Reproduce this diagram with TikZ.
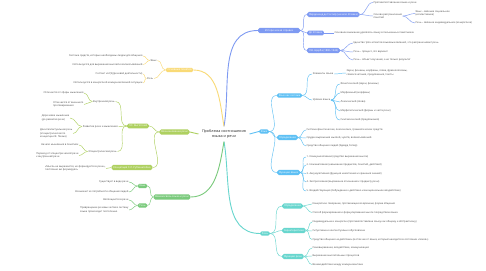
\documentclass[tikz,border=0pt]{standalone}
\usepackage{fontspec}
\setmainfont{Open Sans}
\definecolor{cBlue}{RGB}{126,154,242}
\definecolor{cLbl}{RGB}{94,192,244}
\definecolor{cTeal}{RGB}{104,214,206}
\definecolor{cYel}{RGB}{249,218,118}
\definecolor{cGrn}{RGB}{174,208,96}
\definecolor{cGrn2}{RGB}{122,202,124}
\definecolor{txt}{RGB}{70,70,70}
\newcommand\leaffont{\fontsize{2.5}{3.4}\selectfont}
\newcommand\topicfont{\fontsize{2.55}{3.1}\selectfont}
\newcommand\rootfont{\fontsize{3.7}{4.5}\selectfont}
\tikzset{
  topic/.style={fill=#1,text=white,rounded corners=1.6pt,inner xsep=1.8pt,inner ysep=1.3pt,font=\topicfont},
  leaf/.style={anchor=west,inner sep=0.4pt,text=txt,align=left},
  lleaf/.style={anchor=east,inner sep=0.4pt,text=txt,align=left},
  sub/.style={inner sep=0.6pt,text=txt,font=\topicfont},
  br/.style={draw=#1,line width=0.9pt},
  ln/.style={draw=#1,line width=0.45pt}
}
\begin{document}
\begin{tikzpicture}[x=1pt,y=-1pt,every node/.style={font=\leaffont}]
  \useasboundingbox[fill=white] (0,0) rectangle (486,270);
  % centre
  \node[font=\rootfont,align=center,text=black!85] (root) at (224,134) {Проблема соотношения\\языка и речи};

  % history
  \node[topic=cBlue,minimum width=42pt] (ist) at (279,30.5) {Историческая справка};
  \node[topic=cBlue,anchor=west] (sos) at (307,14.5) {Фердинанд де Соссюр (начало 20 века)};
  \node[topic=cBlue,anchor=west] (do20) at (307,33) {До 20 века};
  \node[topic=cBlue,anchor=west] (shch) at (307,50.5) {Л.В. Щерба (1880--1944)};
  \node[leaf] (sos1) at (373,2.5) {Противопоставление языка и речи};
  \node[leaf] (sos2) at (373,16) {Основа разграничения\\понятий};
  \node[leaf] (sos21) at (415,13.5) {Язык -- явление социальное\\(коллективное)};
  \node[leaf] (sos22) at (415,23) {Речь -- явление индивидуальное (конкретное)};
  \node[leaf] (do1) at (334,33) {Основное внимание уделялось языку в письменных памятниках};
  \foreach \n/\y/\t in {sh1/43/{Единство трёх аспектов языковых явлений, что разграничивает речь},
                        sh2/52/{Речь -- процесс, это вариант},
                        sh3/60/{Речь -- объект изучения, а не только результат}}
    \node[leaf] (\n) at (353,\y) {\t};

  % language
  \node[topic=cLbl] (yaz) at (264,131.5) {Язык};
  \node[topic=cLbl] (sys) at (289.5,95.5) {Язык как система};
  \node[sub,anchor=west] (elem) at (312,74) {Элементы языка};
  \node[sub,anchor=west] (urov) at (312,100) {Уровни языка};
  \node[leaf] (el1) at (346,73) {Звуки, фонемы, морфемы, слова, фразеологизмы,\\словосочетания, предложения, тексты};
  \foreach \n/\y/\t in {u1/84/{Фонетический (звуки, фонемы)},
                        u2/93/{Морфемный (морфемы)},
                        u3/102/{Лексический (слова)},
                        u4/111/{Морфологический (формы и части речи)},
                        u5/120/{Синтаксический (предложения)}}
    \node[leaf] (\n) at (340,\y) {\t};
  \node[topic=cLbl,anchor=west] (opr) at (277,137.5) {Определение};
  \foreach \n/\y/\t in {o1/130/{Система фонетических, лексических, грамматических средств},
                        o2/138/{Орудие выражения мыслей, чувств, волеизъявлений},
                        o3/146/{Средство общения людей (Эдвард Сепир)}}
    \node[leaf] (\n) at (306,\y) {\t};
  \node[topic=cLbl,anchor=west] (funk) at (277,172.5) {Функции языка};
  \foreach \n/\y/\t in {f1/157/{1. Коммуникативная (средство выражения мысли)},
                        f2/165/{2. Номинативная (называние предметов, понятий, действий)},
                        f3/173.5/{3. Аккумулятивная (функция накопления и хранения знаний)},
                        f4/182/{4. Экспрессивная (выражение отношения к предмету речи)},
                        f5/191/{5. Воздействующая (побуждение к действию и эмоциональное воздействие)}}
    \node[leaf] (\n) at (306,\y) {\t};

  % speech
  \node[topic=cTeal] (rech) at (265,233.5) {Речь};
  \node[topic=cTeal,anchor=west] (ropr) at (282,206) {Определение};
  \node[topic=cTeal,anchor=west] (char) at (282,230.5) {Характеристики};
  \node[topic=cTeal,anchor=west] (frech) at (282,256.5) {Функции речи};
  \node[leaf] (r1) at (312,204) {Конкретное говорение, протекающее во времени, форма общения};
  \node[leaf] (r2) at (312,212.5) {Способ формирования и формулирования мысли посредством языка};
  \foreach \n/\y/\t in {c1/222/{Индивидуальна и конкретна (противопоставлена языку как общему и абстрактному)},
                        c2/231/{Ситуативна и контекстуально обусловлена},
                        c3/239.5/{Средство общения <<в действии>> (в отличие от языка, который находится в состоянии <<покоя>>)}}
    \node[leaf] (\n) at (312,\y) {\t};
  \foreach \n/\y/\t in {g1/248/{Самовыражение, воздействие, коммуникация},
                        g2/256/{Выражение мыслительных процессов},
                        g3/264.5/{Взаимодействие между коммуникантами}}
    \node[leaf] (\n) at (312,\y) {\t};

  % notions
  \node[topic=cYel] (obs) at (179.5,70) {Основные понятия};
  \node[sub,anchor=east] (lyaz) at (157.5,60.5) {Язык};
  \node[sub,anchor=east] (lrech) at (154,78.5) {Речь};
  \node[lleaf] (ly1) at (143,56) {Система средств, которые необходимы людям для общения};
  \node[lleaf] (ly2) at (143,64.5) {Используется для выражения мыслей и волеизъявлений};
  \node[lleaf] (lr1) at (143,74) {Состоит из РД (речевой деятельности)};
  \node[lleaf] (lr2) at (143,83) {Используется в конкретной коммуникативной ситуации};

  % origin of speech
  \node[topic=cGrn] (vozn) at (174.5,132) {Возникновение речи};
  \node[topic=cGrn] (vyg) at (138,126) {Л.С. Выготский};
  \node[sub,anchor=east] (vnutr) at (115.5,101.5) {Внутренняя речь};
  \node[sub,anchor=east] (razv) at (118.5,126.5) {Развитие речи и мышления};
  \node[sub,anchor=east] (ego) at (117.5,151.5) {Эгоцентрическая речь};
  \node[lleaf] (vn1) at (84,93) {Отличается от сферы мышления};
  \node[lleaf] (vn2) at (84,104.5) {Отличается от внешнего\\проговаривания};
  \node[lleaf] (rz1) at (70,118) {Доречевое мышление\\(до развития речи)};
  \node[lleaf] (rz2) at (73,133.5) {Доинтеллектуальная речь\\(эгоцентрическая по\\концепции Ж. Пиаже)};
  \node[lleaf] (eg1) at (79,145) {Начало мышления в понятиях};
  \node[lleaf] (eg2) at (79,155.5) {Переход от эгоцентрической речи\\к внутренней речи};
  \node[topic=cGrn] (rub) at (132,167.5) {Концепция С.Л. Рубинштейна};
  \node[lleaf] (rb1) at (106,168.5) {<<Мысль не выражается, но формируется в речи>>,\\постоянно ею формируясь};

  % link of language and speech
  \node[topic=cGrn2] (svz) at (172,197) {Взаимосвязь языка и речи};
  \node[topic=cGrn2] (byaz) at (142.5,186) {Язык};
  \node[topic=cGrn2] (brech) at (142.5,205.5) {Речь};
  \node[lleaf] (by1) at (129,182) {Существует в виде речи};
  \node[lleaf] (by2) at (129,192) {Возникает из потребности общения людей};
  \node[lleaf] (br1) at (129,200) {Воплощается в речи};
  \node[lleaf] (br2) at (129,210) {Превращение речевых актов в систему\\языка происходит постепенно};

  % main branches
  \draw[br=cBlue] (root.north) to[out=80,in=180] (ist.west);
  \draw[br=cLbl] (root.east) to[out=0,in=180] (yaz.west);
  \draw[br=cTeal] (root.south) to[out=-80,in=180] (rech.west);
  \draw[br=cYel] (root.north) to[out=100,in=0] (obs.east);
  \draw[br=cGrn] (root.west) to[out=180,in=0] (vozn.east);
  \draw[br=cGrn2] (root.south) to[out=-100,in=0] (svz.east);

  % right links
  \foreach \n in {sos,do20,shch} \draw[ln=cBlue] (ist.east) to[out=0,in=180] (\n.west);
  \foreach \n in {sos1,sos2} \draw[ln=cBlue] (sos.east) to[out=0,in=180] (\n.west);
  \foreach \n in {sos21,sos22} \draw[ln=cBlue] (sos2.east) to[out=0,in=180] (\n.west);
  \draw[ln=cBlue] (do20.east) -- (do1.west);
  \foreach \n in {sh1,sh2,sh3} \draw[ln=cBlue] (shch.east) to[out=0,in=180] (\n.west);
  \foreach \n in {sys,opr,funk} \draw[ln=cLbl] (yaz.east) to[out=0,in=180] (\n.west);
  \foreach \n in {elem,urov} \draw[ln=cLbl] (sys.east) to[out=0,in=180] (\n.west);
  \draw[ln=cLbl] (elem.east) to[out=0,in=180] (el1.west);
  \foreach \n in {u1,u2,u3,u4,u5} \draw[ln=cLbl] (urov.east) to[out=0,in=180] (\n.west);
  \foreach \n in {o1,o2,o3} \draw[ln=cLbl] (opr.east) to[out=0,in=180] (\n.west);
  \foreach \n in {f1,f2,f3,f4,f5} \draw[ln=cLbl] (funk.east) to[out=0,in=180] (\n.west);
  \foreach \n in {ropr,char,frech} \draw[ln=cTeal] (rech.east) to[out=0,in=180] (\n.west);
  \foreach \n in {r1,r2} \draw[ln=cTeal] (ropr.east) to[out=0,in=180] (\n.west);
  \foreach \n in {c1,c2,c3} \draw[ln=cTeal] (char.east) to[out=0,in=180] (\n.west);
  \foreach \n in {g1,g2,g3} \draw[ln=cTeal] (frech.east) to[out=0,in=180] (\n.west);

  % left links
  \foreach \n in {lyaz,lrech} \draw[ln=cYel] (obs.west) to[out=180,in=0] (\n.east);
  \foreach \n in {ly1,ly2} \draw[ln=cYel] (lyaz.west) to[out=180,in=0] (\n.east);
  \foreach \n in {lr1,lr2} \draw[ln=cYel] (lrech.west) to[out=180,in=0] (\n.east);
  \foreach \n in {vyg,rub} \draw[ln=cGrn] (vozn.west) to[out=180,in=0] (\n.east);
  \foreach \n in {vnutr,razv,ego} \draw[ln=cGrn] (vyg.west) to[out=180,in=0] (\n.east);
  \foreach \n in {vn1,vn2} \draw[ln=cGrn] (vnutr.west) to[out=180,in=0] (\n.east);
  \foreach \n in {rz1,rz2} \draw[ln=cGrn] (razv.west) to[out=180,in=0] (\n.east);
  \foreach \n in {eg1,eg2} \draw[ln=cGrn] (ego.west) to[out=180,in=0] (\n.east);
  \draw[ln=cGrn] (rub.west) to[out=180,in=0] (rb1.east);
  \foreach \n in {byaz,brech} \draw[ln=cGrn2] (svz.west) to[out=180,in=0] (\n.east);
  \foreach \n in {by1,by2} \draw[ln=cGrn2] (byaz.west) to[out=180,in=0] (\n.east);
  \foreach \n in {br1,br2} \draw[ln=cGrn2] (brech.west) to[out=180,in=0] (\n.east);
\end{tikzpicture}
\end{document}
